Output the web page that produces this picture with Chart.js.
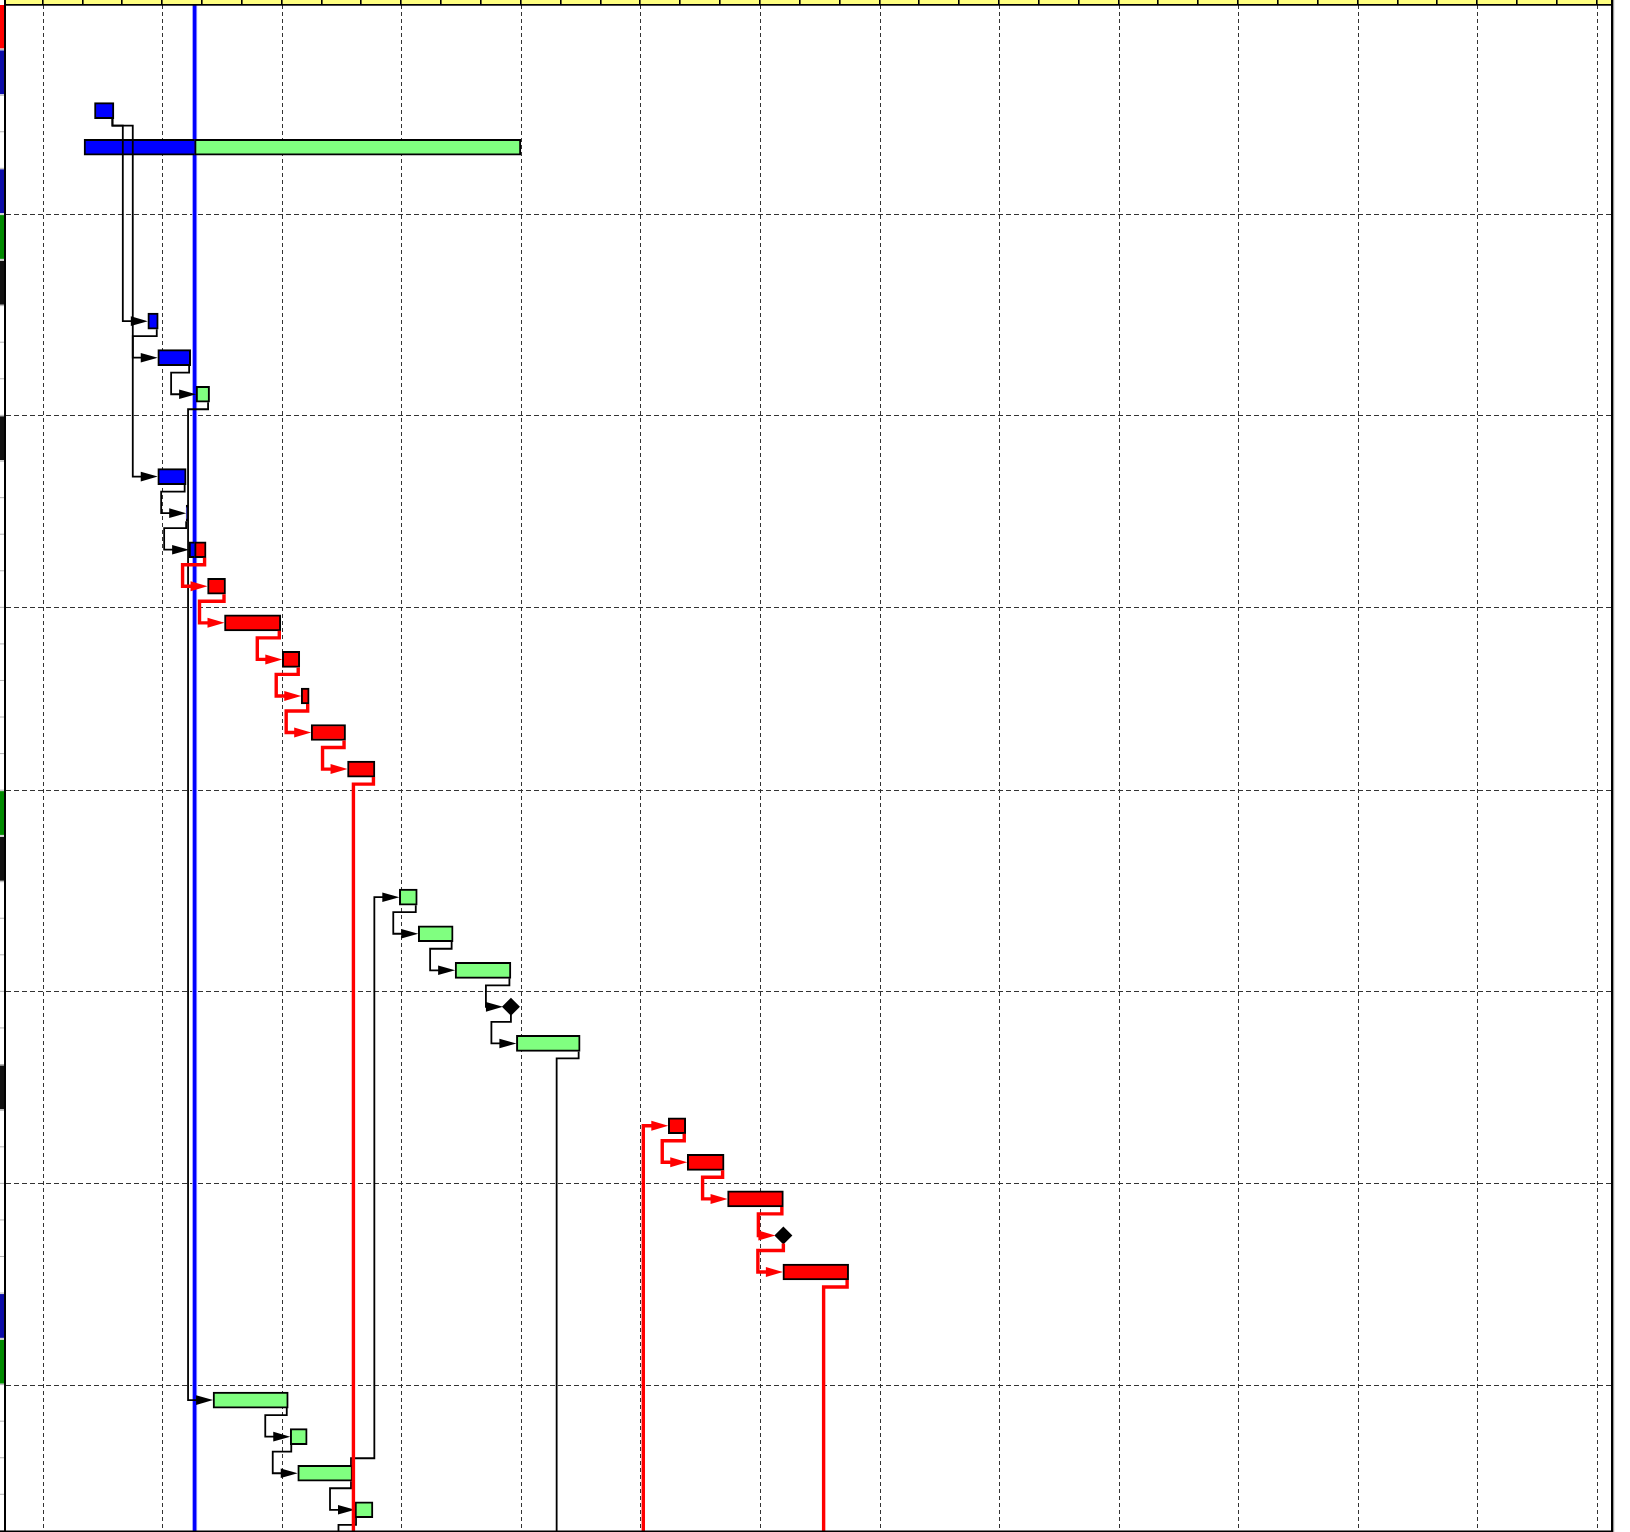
<!DOCTYPE html>
<html><head><meta charset="utf-8">
<script src="https://cdn.jsdelivr.net/npm/chart.js@4.4.1/dist/chart.umd.min.js"></script>
<style>html,body{margin:0;padding:0;background:#fff;overflow:hidden}#wrap{width:1630px;height:1532px;position:relative}</style>
</head><body><div id="wrap"><canvas id="c"></canvas></div>
<script>
// ---- DATA ----
// Row structure (top to bottom): header rows carry their group colour, 'T' = task row
const rowTypes = ['red','blue','T','T','blue','green','black','T','T','T','black',
  'T','T','T','T','T','T','T','T','T','green','black','T','T','T','T','T','black',
  'T','T','T','T','T','blue','green','T','T','T','T','T','T','T','T','T'];
// Tasks: row number (1-based), start / end in hours from the first day line
const taskRow      = [3, 4, 8, 9, 10, 12, 13, 14, 15, 16, 17, 18, 19, 20, 23, 24, 25, 27, 29, 30, 31, 33, 36, 37, 38, 39, 40, 41, 42, 43, 44];
const taskStart    = [10.4, 8.3, 21.1, 23.1, 30.8, 23.1, 28.8, 29.4, 33.1, 36.5, 48.1, 51.9, 53.9, 61.2, 71.6, 75.4, 82.8, 95.1, 125.6, 129.4, 137.5, 148.6, 34.2, 49.7, 51.2, 62.7, 64.4, 67.4, 108.2, 161.8, 115.0];
const taskEnd      = [14.3, 96.0, 23.2, 29.7, 33.5, 28.8, 29.1, 32.8, 36.7, 47.8, 51.6, 53.5, 60.8, 66.7, 75.2, 82.4, 94.0, 107.9, 129.1, 136.8, 148.7, 161.8, 49.3, 53.1, 62.2, 66.3, 70.0, 75.0, 115.0, 170.0, 121.5];
const taskCritical = [false, false, false, false, false, false, false, true, true, true, true, true, true, true, false, false, false, false, true, true, true, true, false, false, false, false, false, true, false, true, true];
// Milestones
const msRow  = [26, 32];
const msTime = [94.0, 148.7];
// Dependencies
const linkFrom     = [3, 3, 8, 9, 10, 12, 13, 14, 15, 16, 17, 18, 19, 20, 23, 24, 25, 26, 27, 29, 30, 31, 32, 33, 44, 36, 37, 38, 38, 39];
const linkTo       = [8, 12, 9, 10, 36, 13, 14, 15, 16, 17, 18, 19, 20, 41, 24, 25, 26, 27, 42, 30, 31, 32, 33, 43, 29, 37, 38, 39, 23, 40];
const linkType     = ['FS','FS','FS','FS','FS','FS','FS','FS','FS','FS','FS','FS','FS','FS','FS','FS','FS','FS','FS','FS','FS','FS','FS','FS','FS','FS','SS','FS','FS','SS'];
const linkCritical = [false,false,false,false,false,false,false,true,true,true,true,true,true,true,false,false,false,false,false,true,true,true,true,true,true,false,false,false,false,false];
// Time markers
const todayHour = 30.5;
const dayLines = [0, 24, 48, 72, 96, 120, 144, 168, 192, 216, 240, 264, 288, 312];
const headerStep = 8;

// ---- LAYOUT (style) ----
const TASK_H = 1, HEAD_H = 1.252, BAR_POS = 0.424;
const rowTop = []; let acc = 0;
rowTypes.forEach(t => { rowTop.push(acc); acc += (t === 'T' ? TASK_H : HEAD_H); });
const rowH = i => rowTypes[i] === 'T' ? TASK_H : HEAD_H;
const rowCenter = r => rowTop[r - 1] + BAR_POS;
const rowBoundaries = [];
for (let i = 5; i <= rowTypes.length; i += 5) rowBoundaries.push(rowTop[i - 1] + rowH(i - 1));

const COLORS = { done: '#0000ff', normal: '#80ff80', critical: '#ff0000' };
const STRIP = { red: '#ff0000', blue: '#0c0ca8', green: '#008a00', black: '#111111' };

// split bars at "today"
const barData = [], barColors = [], barBorders = [];
taskRow.forEach((r, i) => {
  const s = taskStart[i], e = taskEnd[i], rest = taskCritical[i] ? COLORS.critical : COLORS.normal;
  const y = rowCenter(r);
  if (e <= todayHour) { barData.push({ x: [s, e], y }); barColors.push(COLORS.done); barBorders.push(2); }
  else if (s >= todayHour) { barData.push({ x: [s, e], y }); barColors.push(rest); barBorders.push(2); }
  else {
    barData.push({ x: [s, todayHour], y }); barColors.push(COLORS.done); barBorders.push({ left: 2, top: 2, bottom: 2, right: 0 });
    barData.push({ x: [todayHour, e], y }); barColors.push(rest); barBorders.push(2);
  }
});
const msData = msRow.map((r, i) => ({ x: msTime[i], y: rowCenter(r) }));

function taskInfo(row) {
  const i = taskRow.indexOf(row);
  if (i >= 0) return { s: taskStart[i], e: taskEnd[i], ms: false };
  const j = msRow.indexOf(row);
  return { s: msTime[j], e: msTime[j], ms: true };
}

const overlay = {
  id: 'ganttOverlay',
  beforeDatasetsDraw(chart) {
    const { ctx, chartArea: a, scales: { x, y } } = chart;
    ctx.save();
    // dashed grid
    ctx.strokeStyle = '#333'; ctx.lineWidth = 1;
    ctx.setLineDash([4, 3]);
    dayLines.forEach(v => {
      const p = Math.round(x.getPixelForValue(v)) + 0.5;
      ctx.beginPath(); ctx.moveTo(p, a.top); ctx.lineTo(p, a.bottom); ctx.stroke();
    });
    ctx.setLineDash([5, 3]);
    rowBoundaries.forEach(v => {
      const p = Math.round(y.getPixelForValue(v)) + 0.5;
      if (p > a.bottom) return;
      ctx.beginPath(); ctx.moveTo(a.left, p); ctx.lineTo(a.right, p); ctx.stroke();
    });
    ctx.setLineDash([]);
    // today line
    const px = x.getPixelForValue(todayHour);
    ctx.fillStyle = '#9a9aff'; ctx.fillRect(px - 2.5, a.top, 5, a.bottom - a.top);
    ctx.fillStyle = '#0000ff'; ctx.fillRect(px - 1.6, a.top, 3.2, a.bottom - a.top);
    ctx.restore();
  },
  afterDatasetsDraw(chart) {
    const { ctx, chartArea: a, scales: { x, y } } = chart;
    ctx.save();
    ctx.beginPath(); ctx.rect(a.left, a.top, a.right - a.left, a.bottom - a.top); ctx.clip();
    const order = [...linkFrom.keys()].sort((i, j) => (linkCritical[i] ? 1 : 0) - (linkCritical[j] ? 1 : 0));
    order.forEach(k => {
      const crit = linkCritical[k];
      const p = taskInfo(linkFrom[k]), q = taskInfo(linkTo[k]);
      const pcy = y.getPixelForValue(rowCenter(linkFrom[k]));
      const qcy = y.getPixelForValue(rowCenter(linkTo[k]));
      const half = 8;
      let ex;
      if (linkType[k] === 'SS') ex = x.getPixelForValue(p.s) + 1;
      else ex = p.ms ? x.getPixelForValue(p.e) : x.getPixelForValue(p.e) - 1.5;
      const down = qcy > pcy;
      const y0 = down ? pcy + half : pcy - half;
      const y1 = down ? y0 + 7 : y0 - 7;
      const qs = x.getPixelForValue(q.s);
      const vx = qs - 25;
      const tip = q.ms ? qs - 8 : qs;
      const aLen = 17, aHalf = crit ? 5 : 4.8;
      ctx.strokeStyle = crit ? '#ff0000' : '#000000';
      ctx.fillStyle = ctx.strokeStyle;
      ctx.lineWidth = crit ? 3.4 : 1.8;
      ctx.lineJoin = 'miter'; ctx.lineCap = 'butt';
      ctx.beginPath();
      ctx.moveTo(ex, y0); ctx.lineTo(ex, y1); ctx.lineTo(vx, y1); ctx.lineTo(vx, qcy); ctx.lineTo(tip - aLen + 2, qcy);
      ctx.stroke();
      ctx.beginPath();
      ctx.moveTo(tip, qcy); ctx.lineTo(tip - aLen, qcy - aHalf); ctx.lineTo(tip - aLen, qcy + aHalf); ctx.closePath();
      ctx.fill();
    });
    ctx.restore();
  },
  afterDraw(chart) {
    const { ctx, chartArea: a, scales: { x, y } } = chart;
    ctx.save();
    // header band
    ctx.fillStyle = '#ffff80'; ctx.fillRect(a.left, 0, a.right - a.left, 4);
    ctx.fillStyle = '#000';
    for (let h = 0; h <= x.max; h += headerStep) {
      const p = x.getPixelForValue(h);
      if (p > a.left + 1 && p < a.right - 1) ctx.fillRect(Math.round(p) - 1, 0, 1.6, 5);
    }
    ctx.fillRect(4, 4, a.right - 2, 1.7);
    // left strip (cut-off table column)
    ctx.beginPath(); ctx.rect(0, a.top, a.left, a.bottom - a.top); ctx.clip();
    rowTypes.forEach((t, i) => {
      const top = y.getPixelForValue(rowTop[i]);
      const bot = y.getPixelForValue(rowTop[i] + rowH(i));
      if (t !== 'T') { ctx.fillStyle = STRIP[t]; ctx.fillRect(0, top + 1, 4, bot - top - 2); }
      ctx.fillStyle = '#b4b4b4'; ctx.fillRect(0, bot - 0.5, 4, 1);
    });
    ctx.restore();
    ctx.save();
    ctx.fillStyle = '#000';
    ctx.fillRect(4, 0, 2, chart.height);
    ctx.fillRect(a.right - 1, 0, 2, chart.height);
    ctx.fillRect(0, a.bottom - 0.5, a.right + 1, 1.5);
    ctx.fillStyle = '#9a9a9a';
    ctx.fillRect(a.right + 1, 0, 1.2, chart.height);
    ctx.restore();
  }
};

new Chart(document.getElementById('c'), {
  type: 'bar',
  data: {
    datasets: [
      { type: 'bar', indexAxis: 'y', data: barData, backgroundColor: barColors, borderColor: '#000',
        borderWidth: barBorders, borderSkipped: false, barThickness: 16, grouped: false, order: 2 },
      { type: 'scatter', data: msData, pointStyle: 'rectRot', pointRadius: 9, pointHoverRadius: 9,
        backgroundColor: '#000', borderColor: '#000', borderWidth: 0, order: 1 }
    ]
  },
  options: {
    responsive: true, maintainAspectRatio: false, animation: false, devicePixelRatio: 1, events: [],
    layout: { autoPadding: false, padding: { left: 6, right: 18, top: 5, bottom: 1 } },
    plugins: { legend: { display: false }, tooltip: { enabled: false } },
    scales: {
      x: { type: 'linear', display: false, min: -7.37, max: 315.06, offset: false, beginAtZero: false },
      y: { type: 'linear', display: false, reverse: true, min: 0.037, max: 41.776, offset: false, beginAtZero: false }
    }
  },
  plugins: [overlay]
});
</script></body></html>
